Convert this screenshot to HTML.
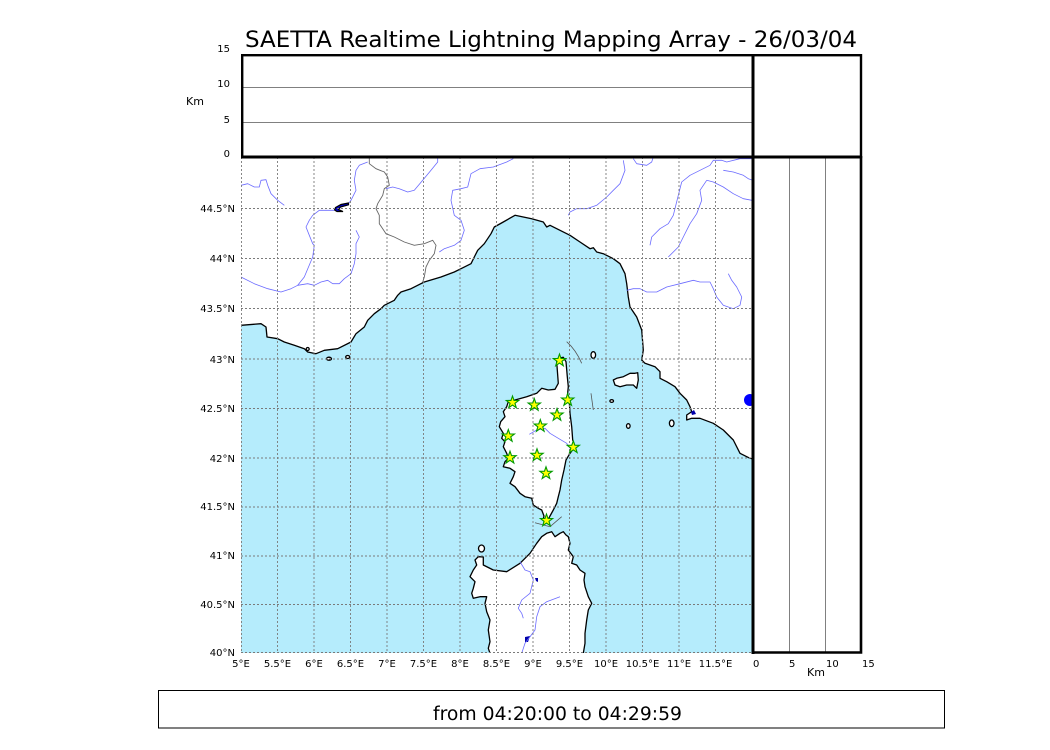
<!DOCTYPE html>
<html><head><meta charset="utf-8"><style>
html,body{margin:0;padding:0;background:#fff;}
svg{display:block;}
text{font-family:"DejaVu Sans","Liberation Sans",sans-serif;fill:#000;}
</style></head><body>
<svg width="1050" height="750" viewBox="0 0 1050 750" xmlns="http://www.w3.org/2000/svg">
<defs>
<clipPath id="mc"><rect x="241" y="157" width="511" height="496"/></clipPath>
<path id="st" d="M0,-6.5 L1.53,-2.1 L6.18,-2.01 L2.47,0.8 L3.82,5.26 L0,2.6 L-3.82,5.26 L-2.47,0.8 L-6.18,-2.01 L-1.53,-2.1 Z" fill="#ffff00" stroke="#009900" stroke-width="1.1" stroke-linejoin="miter"/>
</defs>
<rect width="1050" height="750" fill="#fff"/>

<text x="551" y="47" font-size="22.5" text-anchor="middle" textLength="612" lengthAdjust="spacingAndGlyphs">SAETTA Realtime Lightning Mapping Array - 26/03/04</text>

<g clip-path="url(#mc)">
<!-- sea -->
<polygon fill="#b5ecfc" points="241,325.3 261,323.7 266,327 267,337 277.7,338.7 284.3,342 294.3,345.3 304.3,348.7 307.7,352 316,353.7 324.3,350.3 337.7,348.7 351,342 356,333.7 364.3,327 367.7,320.3 374.3,313.7 381,308.7 384.3,305.3 394.3,300.3 397.7,295.3 401,292 411,288.7 417.7,285.3 424.3,282 441,277 454.3,272 461,268.7 471,263.7 474.3,257 477.7,250.3 484.3,243.7 491,233.7 494.3,227 503.3,222 515,215.3 523.3,217 531.7,218.7 543.3,222 546.7,227 550,225.3 560,230.3 570,235.3 580,242 590,248.7 593.3,247.7 596.7,252 603.3,253.7 613.3,258.7 620,263.7 625,273.7 626.7,283.7 628.3,297 630,307 636.7,317 641.7,330 643.3,350 641.7,360 645,363.3 655,366.7 660,371.7 660,378.3 666.7,381.7 675,386.7 680,393.3 686.7,400 690,406.7 691.7,411.7 686.7,415 686.7,420 691.7,418.3 700,418.3 713.3,423.3 723.3,430 733.3,440 740,453.3 750,458.3 753,459 753,654 241,654"/>
<polyline fill="none" stroke="#000" stroke-width="1.3" stroke-linejoin="round" points="241,325.3 261,323.7 266,327 267,337 277.7,338.7 284.3,342 294.3,345.3 304.3,348.7 307.7,352 316,353.7 324.3,350.3 337.7,348.7 351,342 356,333.7 364.3,327 367.7,320.3 374.3,313.7 381,308.7 384.3,305.3 394.3,300.3 397.7,295.3 401,292 411,288.7 417.7,285.3 424.3,282 441,277 454.3,272 461,268.7 471,263.7 474.3,257 477.7,250.3 484.3,243.7 491,233.7 494.3,227 503.3,222 515,215.3 523.3,217 531.7,218.7 543.3,222 546.7,227 550,225.3 560,230.3 570,235.3 580,242 590,248.7 593.3,247.7 596.7,252 603.3,253.7 613.3,258.7 620,263.7 625,273.7 626.7,283.7 628.3,297 630,307 636.7,317 641.7,330 643.3,350 641.7,360 645,363.3 655,366.7 660,371.7 660,378.3 666.7,381.7 675,386.7 680,393.3 686.7,400 690,406.7 691.7,411.7 686.7,415 686.7,420 691.7,418.3 700,418.3 713.3,423.3 723.3,430 733.3,440 740,453.3 750,458.3 753,459"/>

<!-- islands -->
<g fill="#fff" stroke="#000" stroke-width="1.3" stroke-linejoin="round">
<!-- Corsica -->
<polygon points="558.3,358.3 563.3,357.3 566,361.7 567.3,376.7 568.3,386.7 567.3,396.7 569.3,401.7 570,413.3 571.7,426.7 572.7,440 575,446.7 570,453.3 566,460 564,470 561.7,480 560,490 558.3,496.7 556.7,503.3 553.3,510 550,516 548,520 546,523 543,520 544,516 541.7,510 538.3,508.3 533.3,505 531.7,498.3 525,496.7 520,493.3 515,486.7 510,483.3 513.3,476.7 515,471.7 510,468.3 503.3,466.7 505,461.7 508.3,458.3 506.7,453.3 503.3,446.7 505,441.7 501.7,438.3 503.3,433.3 499.3,426.7 500.7,421.7 505,416.7 503.3,411.7 506.7,406.7 508.3,401.7 515,400 526.7,396.7 536.7,393.3 541.7,388.3 548.3,390 555,389.3 558.3,383.3 557.3,370 556.7,361.7"/>
<!-- Sardinia -->
<polygon points="546.7,533.3 551.7,531.7 555,536.7 560,533.3 563.3,531.7 566,535 568.3,536.7 570,543.3 568.3,550 573.3,556.7 571.7,563.3 576.7,565 580,570 585,573.3 584,580 585,586.7 588.3,596.7 591.7,603.3 588.3,610 586.7,620 585,633.3 585,643.3 583.3,653.3 583,660 490,660 490,653.3 488.3,648.3 490,641.7 488.3,630 490,620 486.7,611.7 485,603.3 486.7,596.7 480,596.7 473.3,598.3 471.7,593.3 473.3,588.3 475,581.7 470,576.7 473.3,570 476.7,565 475,560 478.3,556.7 483.3,557 483.3,565 493.3,570 506.7,571.7 520,563.3 530,553.3 536.7,543.3 541.7,536.7"/>
<ellipse cx="481.5" cy="548.5" rx="3" ry="3.5"/>
<!-- Elba -->
<polygon points="613.3,380 616.7,378.3 623.3,376.7 630,373.3 635,373.3 637.7,372.7 638.3,380 636.7,388.3 633.3,385 626.7,385 620,386.7 615,385"/>
<ellipse cx="593.3" cy="355" rx="2.3" ry="3.3"/>
<ellipse cx="611.7" cy="401" rx="1.8" ry="1.4"/>
<ellipse cx="628.3" cy="426" rx="1.8" ry="2.3"/>
<ellipse cx="671.7" cy="423.3" rx="2.3" ry="3.3"/>
<ellipse cx="329" cy="358.7" rx="2.5" ry="1.5"/>
<ellipse cx="347.7" cy="357" rx="2" ry="1.5"/>
<ellipse cx="307.7" cy="349" rx="1.5" ry="1.5"/>
</g>

<!-- lakes -->
<polygon fill="#0000cc" stroke="#000" stroke-width="1.2" points="348.5,203 341,204.5 335.5,207.5 334.5,210 337,211.5 343,211.5 338.5,209.5 340.5,207 348.5,204.8"/>
<ellipse cx="750" cy="400" rx="6" ry="6" fill="#0000ff"/>
<polygon fill="#0000aa" points="691,412 694,410 696,414 692,415"/>
<polygon fill="#0000aa" points="535,578 538,578 538,582 536,581"/>
<polygon fill="#0000aa" points="525,637 530,636 528,642 525,642"/>

<!-- rivers -->
<g fill="none" stroke="#6b6bff" stroke-width="0.8" stroke-linejoin="round">
<polyline points="241,185.3 247.7,183.7 254.3,187 259.3,187 261,180.3 266,179.7 267.7,185.3 271,193.7 277.7,200.3 284.3,205.3"/>
<polyline points="241,277 254.3,283.7 267.7,288.7 281,292 291,288.7 297.7,285.3 307.7,283.7 314.3,285.3 321,282 327.7,280.3 332.7,283.7 339.3,283.7 344.3,278.7 351,273.7 354.3,263.7 356,253.7 356,243.7 359.3,237 356,230.3"/>
<polyline points="297.7,285.3 304.3,277 312.7,257 314.3,245.3 312.7,243.7 309.3,235.3 306,227 309.3,220.3 312.7,215.3 319.3,210.3 334.3,210.3"/>
<polyline points="349,203 351,200.3 356,190.3 354.3,180.3 356,170.3 359.3,165.3 367.7,162"/>
<polyline points="437.7,157 437.7,162 431,170.3 422.7,180.3 414.3,190.3 407.7,192 399.3,188.7 392.7,187 386,188.7"/>
<polyline points="513.3,158.7 506.7,162 493.3,167 480,168.7 471,173.7 467.7,187 461,188.7 452.7,190.3 451,200.3 454.3,215.3 461,220.3 464.3,230.3 461,240.3 454.3,245.3 444.3,248.7 439.3,252"/>
<polyline points="623.3,160.3 625,170.3 620,183.7 613.3,190.3 606.7,197 596.7,205.3 586.7,208.7 576.7,208.7 570,212 568.3,215.3"/>
<polyline points="633.3,158.7 636.7,163.7 646.7,165.3 651.7,162 653.3,157"/>
<polyline points="752,158.7 740,158.7 726.7,162 721.7,160.3 713.3,160.3 710,165.3 700,170.3 690,175.3 681.7,182 678.3,195.3 673.3,215.3 668.3,223.7 660,228.7 651.7,237 650,245.3"/>
<polyline points="723.3,170.3 733.3,172 743.3,175.3 748.3,178.7 752,180"/>
<polyline points="706.7,180.3 713.3,182 723.3,187 733.3,193.7 743.3,198.7 752,200.3"/>
<polyline points="706.7,180.3 700,190.3 701.7,200.3 696.7,213.7 690,223.7 683.3,237 678.3,247 668.3,257"/>
<polyline points="626.7,290.3 633.3,288.7 640,288.7 646.7,292 656.7,292 666.7,287 680,283.7 693.3,280.3 700,282 710,282 713.3,288.7 716.7,297 723.3,305.3 733.3,308.7 740,305.3 741.7,297 736.7,287 731.7,280.3 728.3,273.7"/>
<polyline points="529.3,434.3 536.7,430 545,428.3 550,433.3 558.3,438.3 566.7,443.3 570,448.3"/>
<polyline points="520,561.7 525,570 530,571.7 533.3,580 531.7,586.7 530,593.3 521.7,600 518.3,608.3 521.7,613.3 523.3,618.3"/>
<polyline points="560,596.7 546.7,601.7 540,606.7 536.7,616.7 535,630 530,636.7 525,643.3 521.7,653.3"/>
</g>

<!-- borders -->
<polyline fill="none" stroke="#666" stroke-width="0.9" points="369.3,157 369.3,163.7 376,168.7 384.3,172 387.7,177 389.3,185.3 384.3,188.7 382.7,195.3 377.7,203.7 376,208.7 379.3,215.3 379.3,223.7 386,233.7 394.3,237 404.3,242 414.3,245.3 424.3,243.7 432.7,240.3 436,245.3 434.3,253.7 429.3,260.3 426,267 424.3,277 422.7,282"/>
<g fill="none" stroke="#555" stroke-width="0.8">
<path d="M566.7,341.7 Q576,350 581.7,363.3"/>
<path d="M591,393.3 L593.3,410"/>
<polyline points="535,522.7 550,526.7 561.7,516.7"/>
</g>

<!-- grid -->
<g stroke="#7a7a7a" stroke-width="0.9" stroke-dasharray="2,2" fill="none">
<path d="M241,208.5H752M241,258.5H752M241,308.5H752M241,359H752M241,408.5H752M241,458H752M241,507H752M241,556H752M241,604.5H752M241,652.5H752"/>
<path d="M241.5,157V653M277.5,157V653M314,157V653M350.5,157V653M387,157V653M423.5,157V653M460,157V653M496.5,157V653M533,157V653M569.5,157V653M606,157V653M642.5,157V653M679,157V653M715.5,157V653"/>
</g>

<!-- stars -->
<g>
<use href="#st" x="559.5" y="360.5"/>
<use href="#st" x="512.5" y="402.5"/>
<use href="#st" x="534.3" y="405"/>
<use href="#st" x="567.7" y="400"/>
<use href="#st" x="557" y="415"/>
<use href="#st" x="540.3" y="426"/>
<use href="#st" x="508.3" y="436"/>
<use href="#st" x="573.3" y="447.3"/>
<use href="#st" x="510" y="457.7"/>
<use href="#st" x="537" y="455.3"/>
<use href="#st" x="546" y="473.3"/>
<use href="#st" x="546.5" y="520.5"/>
</g>
</g>

<!-- top panel -->
<g stroke="#808080" stroke-width="1">
<line x1="242" y1="87.5" x2="752" y2="87.5"/>
<line x1="242" y1="122.5" x2="752" y2="122.5"/>
<line x1="789.5" y1="157" x2="789.5" y2="652"/>
<line x1="825.5" y1="157" x2="825.5" y2="652"/>
</g>
<g fill="none" stroke="#000">
<rect x="242.2" y="55.2" width="618.8" height="101.8" stroke-width="2.4"/>
<line x1="241" y1="157" x2="862" y2="157" stroke-width="3"/>
<line x1="753" y1="54" x2="753" y2="654" stroke-width="3"/>
<polyline points="753,652.5 861,652.5 861,156" stroke-width="2.6"/>
</g>

<!-- axis labels -->
<g font-size="10">
<text x="230" y="52" text-anchor="end">15</text>
<text x="230" y="87" text-anchor="end">10</text>
<text x="230" y="123" text-anchor="end">5</text>
<text x="230" y="157" text-anchor="end">0</text>
<text x="235" y="212" text-anchor="end">44.5°N</text>
<text x="235" y="262" text-anchor="end">44°N</text>
<text x="235" y="312" text-anchor="end">43.5°N</text>
<text x="235" y="363" text-anchor="end">43°N</text>
<text x="235" y="412" text-anchor="end">42.5°N</text>
<text x="235" y="462" text-anchor="end">42°N</text>
<text x="235" y="510" text-anchor="end">41.5°N</text>
<text x="235" y="559" text-anchor="end">41°N</text>
<text x="235" y="608" text-anchor="end">40.5°N</text>
<text x="235" y="656" text-anchor="end">40°N</text>
<g text-anchor="middle">
<text x="241" y="667">5°E</text>
<text x="277.5" y="667">5.5°E</text>
<text x="314" y="667">6°E</text>
<text x="350.5" y="667">6.5°E</text>
<text x="387" y="667">7°E</text>
<text x="423.5" y="667">7.5°E</text>
<text x="460" y="667">8°E</text>
<text x="496.5" y="667">8.5°E</text>
<text x="533" y="667">9°E</text>
<text x="569.5" y="667">9.5°E</text>
<text x="606" y="667">10°E</text>
<text x="642.5" y="667">10.5°E</text>
<text x="679" y="667">11°E</text>
<text x="715.5" y="667">11.5°E</text>
</g>
<text x="753" y="667">0</text>
<text x="789" y="667">5</text>
<text x="826" y="667">10</text>
<text x="862" y="667">15</text>
</g>
<text x="186" y="105" font-size="11">Km</text>
<text x="807" y="676" font-size="11">Km</text>

<!-- bottom box -->
<rect x="158.5" y="690.5" width="786" height="37.5" fill="none" stroke="#000" stroke-width="1"/>
<text x="557.5" y="720" font-size="18.7" text-anchor="middle" textLength="249" lengthAdjust="spacingAndGlyphs">from 04:20:00 to 04:29:59</text>
</svg>
</body></html>
